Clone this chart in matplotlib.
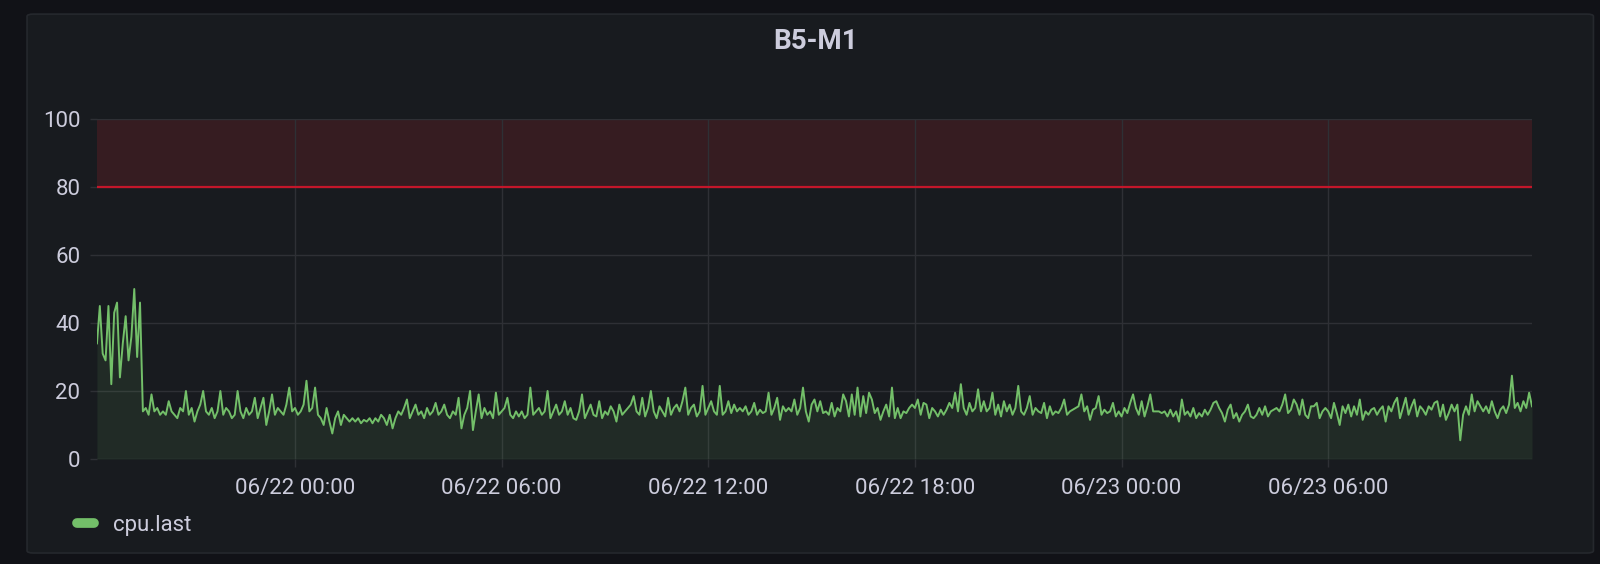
import matplotlib.pyplot as plt
import matplotlib.dates as mdates
from matplotlib.patches import FancyBboxPatch
from matplotlib.lines import Line2D
import pandas as pd

title = "B5-M1"
series_name = "cpu.last"
start_time = "2021-06-21 18:15"
step = "5min"
y_ticks = [0, 20, 40, 60, 80, 100]
threshold = 80
y_max = 100

# cpu.last, one value every 5 minutes
cpu_last = [
    # 06/21 18:15 - 06/22 00:00
    34, 45, 31, 29, 45, 22, 43, 46, 24, 34, 42, 29, 36, 50, 30, 46,
    14, 15, 13, 19, 14, 15, 13, 14, 13, 17, 14, 13, 12, 15, 14, 20, 13, 15, 11, 14,
    16, 20, 14, 13, 15, 12, 14, 20, 13, 15, 14, 12, 13, 20, 14, 12, 15, 13, 14, 18,
    12, 15, 18, 10, 14, 19, 13, 15, 14, 13, 16, 21, 14,
    # 06/22 00:00 - 06:00
    15, 13, 14, 16, 23, 14, 15, 21, 13, 12, 10, 15, 11, 7.5, 12, 14, 10, 13, 12, 11,
    12, 11, 12, 10.5, 11.5, 11, 12, 10.5, 12, 11, 13, 12, 10, 13, 9, 12, 14, 13, 15, 17.5,
    12, 14, 16, 13, 14, 12, 15, 13, 14, 16.5, 13, 14, 16, 13, 12, 14, 13, 18, 9, 13,
    15, 20, 8.5, 14, 19, 12, 15, 13, 14, 12, 19.5, 13,
    # 06/22 06:00 - 12:00
    14, 15, 18, 13, 12, 14, 12.5, 14, 12, 13, 21, 13, 14, 15, 13, 14, 20, 12, 14, 16,
    13, 14, 17, 13, 15, 12, 11.5, 14, 19, 12, 14, 16, 13, 12.5, 17, 12, 14, 13, 15.5, 14,
    11, 16, 13, 14, 15, 16, 18.5, 14, 13, 18, 12.5, 15, 20, 14, 12, 15.5, 14, 12.5, 18, 13,
    15, 16, 14, 17, 21, 13, 15, 16, 12.5, 14, 21.5, 13,
    # 06/22 12:00 - 18:00
    15, 17, 14, 13, 21.5, 13, 14, 17, 13.5, 16, 14, 15, 14, 15.5, 13, 14, 16.5, 13, 14.5, 13.5,
    14, 19.5, 13, 15, 18, 11.5, 15.5, 14, 15, 14, 17.5, 13, 15, 21, 14, 11, 16, 17.5, 14, 17,
    13.5, 14, 13, 16.5, 12.5, 15, 14, 19, 17, 12.5, 19, 13, 21, 12.5, 18.5, 13.5, 19.5, 17.5, 13.5, 15,
    11.5, 14, 16, 12.5, 21, 12, 15, 12, 14, 13.5, 15, 16,
    # 06/22 18:00 - 06/23 00:00
    15, 17.5, 13, 16.5, 16, 12, 15, 14, 12.5, 14.5, 13, 14.5, 16.5, 15, 19.5, 14, 22, 15, 13, 16.5,
    14, 15, 20.5, 14, 17, 14, 15, 19.5, 13, 16, 12.5, 17, 14, 16, 13, 15, 21.5, 14, 13, 15,
    18.5, 13, 15, 14, 13.5, 16.5, 12, 15.5, 13, 14, 13.5, 15, 17.5, 13, 14, 14.5, 15, 15.5, 19, 14,
    15.5, 11.5, 14.5, 15, 18.5, 13, 14.5, 13.5, 14, 16.5, 12.5, 14,
    # 06/23 00:00 - 06:00
    12.5, 15, 13.5, 16.5, 19, 15, 13, 17, 12.5, 15.5, 19, 14, 14, 14, 13.5, 14, 12.5, 14.5, 12.5, 14,
    11, 17.5, 13, 14, 12.5, 15, 12, 13.5, 12.5, 14.5, 13, 14.5, 16.5, 17, 15, 13.5, 11, 14.5, 16, 12,
    13.5, 11, 13, 14, 16, 12.5, 12, 13, 15, 13, 15.5, 12.5, 14, 14.5, 15, 14, 16, 19, 13.5, 14.5,
    17.5, 16, 13, 17.5, 13, 12, 15.5, 15.5, 16.5, 12, 14, 15,
    # 06/23 06:00 - 11:55
    14, 12, 16.5, 13.5, 10, 15.5, 13.5, 16, 12.5, 15.5, 13, 17.5, 11.5, 14, 13, 14.5, 15, 13, 14.5, 15.5,
    11, 15.5, 14, 16.5, 18, 12, 15, 18, 13, 15.5, 17.5, 12.5, 15.5, 14.5, 13, 15.5, 14.5, 16.5, 17, 12.5,
    16, 11.5, 13.5, 16, 14, 16, 5.5, 13, 15.5, 13, 19, 14, 17, 15.5, 14, 15.5, 13.5, 17, 14, 12,
    14.5, 15.5, 13.5, 16, 24.5, 15, 16.5, 14, 17, 15, 19.5, 15.5,
]

times = pd.date_range(start_time, periods=len(cpu_last), freq=step)

bg = "#111217"
panel = "#181b1f"
grid_col = "#2e3035"
text_col = "#ccccdc"
green = "#73bf69"

plt.rcParams['font.family'] = ['Roboto', 'DejaVu Sans']

fig = plt.figure(figsize=(16, 5.64), dpi=100, facecolor=bg)
fig.add_artist(FancyBboxPatch((0.0169, 0.0195), 0.979, 0.9555,
                              boxstyle="round,pad=0,rounding_size=0.004",
                              transform=fig.transFigure, facecolor=panel,
                              edgecolor="#25282d", linewidth=1.2, zorder=-10))

fig.text(0.5095, 0.927, title, ha="center", va="center", color=text_col,
         fontsize=20, fontweight="bold")

ax = fig.add_axes([0.0606, 0.1862, 0.8969, 0.6028])
ax.set_facecolor("none")
ax.set_axisbelow(True)

ax.axhspan(threshold, y_max, color="#361c21", lw=0, zorder=0)
ax.fill_between(times, cpu_last, 0, color=green, alpha=0.1, lw=0, zorder=1)
ax.plot(times, cpu_last, color=green, lw=1.4, zorder=3)
ax.axhline(threshold, color="#c4162a", lw=1.6, zorder=2)

ax.set_ylim(0, y_max)
ax.set_xlim(times[0], times[-1])
ax.set_yticks(y_ticks)
ax.xaxis.set_major_locator(mdates.HourLocator(byhour=[0, 6, 12, 18]))
ax.xaxis.set_major_formatter(mdates.DateFormatter("%m/%d %H:%M"))

ax.grid(True, color=grid_col, lw=1)
for s in ax.spines.values():
    s.set_visible(False)
ax.tick_params(axis="y", length=5, width=1, color=grid_col, pad=7,
               labelsize=16, labelcolor=text_col)
ax.tick_params(axis="x", length=6, width=1, color=grid_col, pad=8,
               labelsize=16, labelcolor=text_col)

handle = Line2D([], [], color=green, lw=7, solid_capstyle="round")
ax.legend([handle], [series_name], loc="center left",
          bbox_to_anchor=(77 / 1600, 1 - 525 / 564), bbox_transform=fig.transFigure,
          frameon=False, fontsize=16, labelcolor=text_col, handlelength=0.75,
          handletextpad=0.85, borderpad=0, borderaxespad=0)

fig.savefig("out.png", dpi=100, facecolor=bg)
